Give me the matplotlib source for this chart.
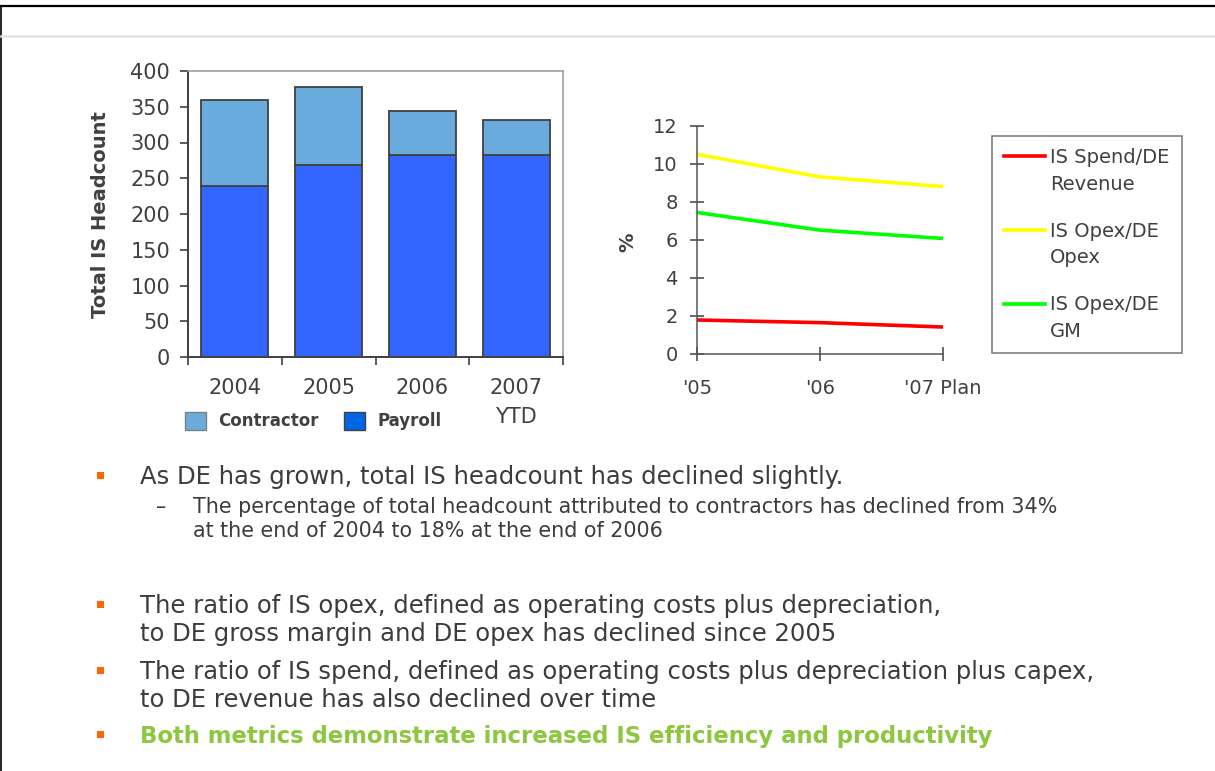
import matplotlib
matplotlib.use("Agg")
import matplotlib.pyplot as plt
import numpy as np
from matplotlib.patches import Patch, Rectangle
from matplotlib.lines import Line2D
from matplotlib.legend_handler import HandlerLine2D

# data
years = ['2004', '2005', '2006', '2007\nYTD']
payroll = [239, 268, 282, 282]
contractor = [121, 110, 62, 49]

periods = ["'05", "'06", "'07 Plan"]
spend_revenue = [1.79, 1.65, 1.42]
opex_opex = [10.51, 9.32, 8.81]
opex_gm = [7.45, 6.52, 6.08]
line_labels = ['IS Spend/DE\nRevenue', 'IS Opex/DE\nOpex', 'IS Opex/DE\nGM']

bullets = [
    ['As DE has grown, total IS headcount has declined slightly.'],
    ['The ratio of IS opex, defined as operating costs plus depreciation,',
     'to DE gross margin and DE opex has declined since 2005'],
    ['The ratio of IS spend, defined as operating costs plus depreciation plus capex,',
     'to DE revenue has also declined over time'],
    ['Both metrics demonstrate increased IS efficiency and productivity'],
]
sub_bullet = ['The percentage of total headcount attributed to contractors has declined from 34%',
              'at the end of 2004 to 18% at the end of 2006']

W, H = 1215, 771
GREY = '#404040'


def fx(x):
    return x / W


def fy(y):
    return 1 - y / H


class FirstLineHandler(HandlerLine2D):
    # put the legend line next to the first text line
    def create_artists(self, legend, orig_handle, xdescent, ydescent,
                       width, height, fontsize, trans):
        arts = super().create_artists(legend, orig_handle, xdescent, ydescent,
                                      width, height, fontsize, trans)
        for a in arts:
            a.set_ydata(np.asarray(a.get_ydata()) + 0.78 * fontsize)
        return arts


fig = plt.figure(figsize=(W / 100, H / 100), dpi=100)

# slide frame
fig.add_artist(Line2D([0, 1], [fy(5.5), fy(5.5)], color='black', lw=1.6))
fig.add_artist(Line2D([fx(0.5), fx(0.5)], [0, fy(5.5)], color='black', lw=1.2))
fig.add_artist(Line2D([fx(1), 1], [fy(35.5), fy(35.5)], color='#e4e4e4', lw=1.8))

# ---- bar chart
ax1 = fig.add_axes([fx(188), fy(357), (563 - 188) / W, (357 - 71) / H])
x = np.arange(len(years))
ax1.bar(x, payroll, width=0.715, color='#3366FF', edgecolor=GREY, linewidth=1.3, zorder=2)
ax1.bar(x, contractor, bottom=payroll, width=0.715, color='#6AABDE',
        edgecolor=GREY, linewidth=1.3, zorder=2)
ax1.set_xlim(-0.5, 3.5)
ax1.set_ylim(0, 400)
ax1.set_yticks(range(0, 401, 50))
ax1.set_xticks(np.arange(-0.5, 4, 1))
ax1.set_xticklabels([])
ax1.set_xticks(x, minor=True)
ax1.set_xticklabels(years, minor=True, linespacing=1.6)
ax1.tick_params(axis='x', which='major', length=6, width=1.2, color=GREY)
ax1.tick_params(axis='x', which='minor', length=0, pad=15, labelsize=15, labelcolor=GREY)
ax1.tick_params(axis='y', length=6, width=1.2, color=GREY, pad=7, labelsize=15, labelcolor=GREY)
for s in ['left', 'bottom']:
    ax1.spines[s].set_color(GREY)
    ax1.spines[s].set_linewidth(1.4)
for s in ['top', 'right']:
    ax1.spines[s].set_color('#a0a0a0')
    ax1.spines[s].set_linewidth(1.2)
fig.text(fx(100), fy(215), 'Total IS Headcount', rotation=90, ha='center', va='center',
         fontsize=14, fontweight='bold', color=GREY)

bar_handles = [Patch(facecolor='#6AABDE', edgecolor='#808080', label='Contractor'),
               Patch(facecolor='#0066E6', edgecolor=GREY, label='Payroll')]
fig.legend(handles=bar_handles, loc='center left', bbox_to_anchor=(fx(180), fy(421)),
           ncol=2, frameon=False, handlelength=1.25, handleheight=1.3, handletextpad=0.75,
           columnspacing=1.5, borderaxespad=0, borderpad=0.3,
           prop={'size': 12, 'weight': 'bold'}, labelcolor=GREY)

# ---- line chart
ax2 = fig.add_axes([fx(697), fy(354), (943 - 697) / W, (354 - 126) / H])
t = np.arange(len(periods))
l1, = ax2.plot(t, spend_revenue, color='#FF0000', lw=2.6)
l2, = ax2.plot(t, opex_opex, color='#FFFF00', lw=2.6)
l3, = ax2.plot(t, opex_gm, color='#00FF00', lw=2.6)
ax2.set_xlim(0, 2)
ax2.set_ylim(0, 12)
ax2.set_yticks(range(0, 13, 2))
ax2.set_xticks(t)
ax2.set_xticklabels(periods)
ax2.tick_params(axis='both', direction='inout', length=10, width=1.1, color=GREY,
                labelsize=14, labelcolor=GREY)
ax2.tick_params(axis='y', pad=9)
ax2.tick_params(axis='x', pad=13)
for s in ['top', 'right']:
    ax2.spines[s].set_visible(False)
for s in ['left', 'bottom']:
    ax2.spines[s].set_color('#555555')
    ax2.spines[s].set_linewidth(1.1)
fig.text(fx(628), fy(242), '%', rotation=90, ha='center', va='center',
         fontsize=14, fontweight='bold', color=GREY)

leg = fig.legend([l1, l2, l3], line_labels, loc='upper left',
                 bbox_to_anchor=(fx(992), fy(136)), borderaxespad=0,
                 frameon=True, fancybox=False, framealpha=1, edgecolor='#777777',
                 fontsize=14, labelcolor=GREY, handlelength=2.1, handletextpad=0.28,
                 labelspacing=1.45, borderpad=0.62,
                 handler_map={Line2D: FirstLineHandler()})
for txt in leg.get_texts():
    txt.set_linespacing(1.5)
leg.get_frame().set_linewidth(1.1)

# ---- bullet text
TEXT = '#3c3c3c'
ORANGE = '#FF6600'
GREEN = '#8DC63F'
bullet_baselines = [[484], [613, 641], [679, 707], [743]]
for i, (lines, bases) in enumerate(zip(bullets, bullet_baselines)):
    last = i == len(bullets) - 1
    for txt, b in zip(lines, bases):
        fig.text(fx(140), fy(b), txt, ha='left', va='baseline',
                 fontsize=16.4 if last else 17.5, color=GREEN if last else TEXT,
                 fontweight='bold' if last else 'normal')
    cy = bases[0] - 8.7
    fig.add_artist(Rectangle((fx(97), fy(cy + 3.5)), 7 / W, 7 / H,
                             transform=fig.transFigure, color=ORANGE, lw=0))

for b, txt in zip([513, 537], sub_bullet):
    fig.text(fx(193), fy(b), txt, ha='left', va='baseline', fontsize=14.9, color=TEXT)
fig.text(fx(156), fy(513), '\u2013', ha='left', va='baseline', fontsize=14.9, color=TEXT)

fig.savefig('out.png', dpi=100)
